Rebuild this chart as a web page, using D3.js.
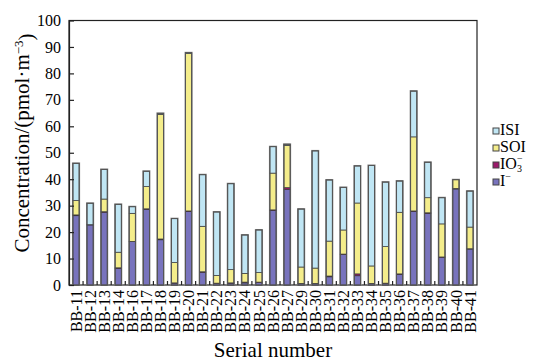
<!DOCTYPE html>
<html><head><meta charset="utf-8">
<script src="https://cdn.jsdelivr.net/npm/d3@7"></script>
<style>body{margin:0;background:#fff}svg{display:block}svg text{font-family:'Liberation Serif','DejaVu Serif',serif !important;fill:#000}</style>
</head><body><svg id="c" width="539" height="361" font-family="'Liberation Serif', serif"></svg>
<script>
const categories = ["BB-11","BB-12","BB-13","BB-14","BB-16","BB-17","BB-18","BB-19","BB-20","BB-21","BB-22","BB-23","BB-24","BB-25","BB-26","BB-27","BB-29","BB-30","BB-31","BB-32","BB-33","BB-34","BB-35","BB-36","BB-37","BB-38","BB-39","BB-40","BB-41"];
const iodide = [26.2,22.7,27.5,6.3,16.4,28.6,17.1,0.7,27.8,4.8,0.6,0.7,0.8,0.9,28.2,36.2,0.5,0.5,3.1,11.6,3.5,0.5,0.6,4.0,27.8,27.1,10.5,36.3,13.6];
const iodate = [0.3,0.1,0.2,0.2,0.1,0.2,0.3,0.1,0.2,0.2,0.1,0.1,0.3,0.2,0.2,0.6,0.1,0.1,0.3,0.1,0.7,0.1,0.1,0.2,0.2,0.2,0.1,0.2,0.1];
const soi = [5.4,0.0,4.8,5.9,10.6,8.4,47.1,7.7,59.5,17.2,2.9,5.0,3.3,3.6,13.9,16.0,6.2,5.8,13.2,9.1,26.8,6.6,13.8,23.3,28.0,5.7,12.5,3.3,8.2];
const isi = [14.1,8.1,11.2,18.1,2.5,5.8,0.4,16.6,0.3,19.5,24.0,32.5,14.5,16.1,10.0,0.4,21.9,44.3,23.1,16.1,14.0,38.0,24.4,11.8,17.3,13.4,9.9,0.0,13.6];
const yTicks = [0,10,20,30,40,50,60,70,80,90,100];
const seriesKeys = ["I","IO3","SOI","ISI"];
const colors = {I:"#7873bd", IO3:"#9b1a6b", SOI:"#f4ed8b", ISI:"#c0e6f4"};
const FONT = "'Liberation Serif', 'DejaVu Serif', serif";

const svg = d3.select("#c");
const L = 69, R = 477, T = 20.5, B = 285;
const x = d3.scaleBand().domain(categories).range([L, R]).paddingInner(0.56).paddingOuter(0.28);
const y = d3.scaleLinear().domain([0, 100]).range([B, T]);

const rows = categories.map((c, i) => ({cat: c, I: iodide[i], IO3: iodate[i], SOI: soi[i], ISI: isi[i]}));
const stacked = d3.stack().keys(seriesKeys)(rows);
const total = d => d.I + d.IO3 + d.SOI + d.ISI;

// frame
svg.append("rect").attr("x", L).attr("y", T).attr("width", R - L).attr("height", B - T)
  .attr("fill", "none").attr("stroke", "#222").attr("stroke-width", 1.2);

// bar halo
svg.append("g").selectAll("rect").data(rows).join("rect")
  .attr("x", d => x(d.cat) - 1).attr("width", x.bandwidth() + 2)
  .attr("y", d => y(total(d)) - 1)
  .attr("height", d => B - y(total(d)) + 1)
  .attr("fill", "#9a9a9a");

// segments
svg.append("g").selectAll("g").data(stacked).join("g")
  .attr("fill", d => colors[d.key])
  .selectAll("rect").data(d => d.filter(s => s[1] - s[0] > 0)).join("rect")
  .attr("x", d => x(d.data.cat)).attr("width", x.bandwidth())
  .attr("y", d => y(d[1])).attr("height", d => y(d[0]) - y(d[1]))
  .attr("stroke", "#3a3a3a").attr("stroke-width", 0.7);

// bar outline
svg.append("g").selectAll("rect").data(rows).join("rect")
  .attr("x", d => x(d.cat)).attr("width", x.bandwidth())
  .attr("y", d => y(total(d)))
  .attr("height", d => B - y(total(d)))
  .attr("fill", "none").attr("stroke", "#555").attr("stroke-width", 1);

// y axis
const ya = svg.append("g").attr("transform", `translate(${L},0)`)
  .call(d3.axisLeft(y).tickValues(yTicks).tickSizeInner(-5).tickSizeOuter(0).tickPadding(8));
ya.attr("font-family", FONT).attr("font-size", 16);
ya.select(".domain").attr("stroke", "#222").attr("stroke-width", 1.2);
ya.selectAll(".tick line").attr("stroke", "#222").attr("stroke-width", 1.2);
ya.selectAll(".tick text").attr("font-family", FONT).attr("font-size", 16).attr("fill", "#000");

// x axis boundary ticks
const step = x.step();
const bounds = categories.slice(1).map((c) => x(c) - (step - x.bandwidth()) / 2);
svg.append("g").selectAll("line").data(bounds).join("line")
  .attr("x1", d => d).attr("x2", d => d).attr("y1", B).attr("y2", B - 4)
  .attr("stroke", "#222").attr("stroke-width", 1.2);

// x labels
svg.append("g").selectAll("text").data(categories).join("text")
  .attr("transform", d => `translate(${x(d) + x.bandwidth() / 2},290) rotate(-90)`)
  .attr("text-anchor", "end").attr("dy", "0.35em").attr("font-family", FONT).attr("font-size", 16).text(d => d);

// axis titles
svg.append("text").attr("x", 273).attr("y", 357).attr("text-anchor", "middle")
  .attr("font-family", FONT).attr("font-size", 21).text("Serial number");
const yt = svg.append("text").attr("transform", "translate(29,143) rotate(-90)").attr("text-anchor", "middle")
  .attr("font-family", FONT).attr("font-size", 21);
yt.append("tspan").text("Concentration/(pmol·m");
yt.append("tspan").attr("dy", "-0.45em").attr("font-size", 13).text("−3");
yt.append("tspan").attr("dy", "0.45em").text(")");

// legend
const legendItems = [{k:"ISI", t:"ISI"}, {k:"SOI", t:"SOI"}, {k:"IO3", t:"IO"}, {k:"I", t:"I"}];
const lg = svg.append("g");
legendItems.forEach((it, i) => {
  const yy = 135 + i * 17;
  lg.append("rect").attr("x", 493).attr("y", yy - 7).attr("width", 6).attr("height", 6)
    .attr("fill", colors[it.k]).attr("stroke", "#444").attr("stroke-width", 1);
  const t = lg.append("text").attr("x", 500).attr("y", yy).attr("font-family", FONT).attr("font-size", 16);
  t.append("tspan").text(it.t);
  if (it.k === "IO3") {
    t.append("tspan").attr("dy", "3").attr("font-size", 10).text("3");
    t.append("tspan").attr("dx", "-5").attr("dy", "-10").attr("font-size", 10).text("−");
  }
  if (it.k === "I") {
    t.append("tspan").attr("dy", "-6").attr("font-size", 10).text("−");
  }
});
</script></body></html>
